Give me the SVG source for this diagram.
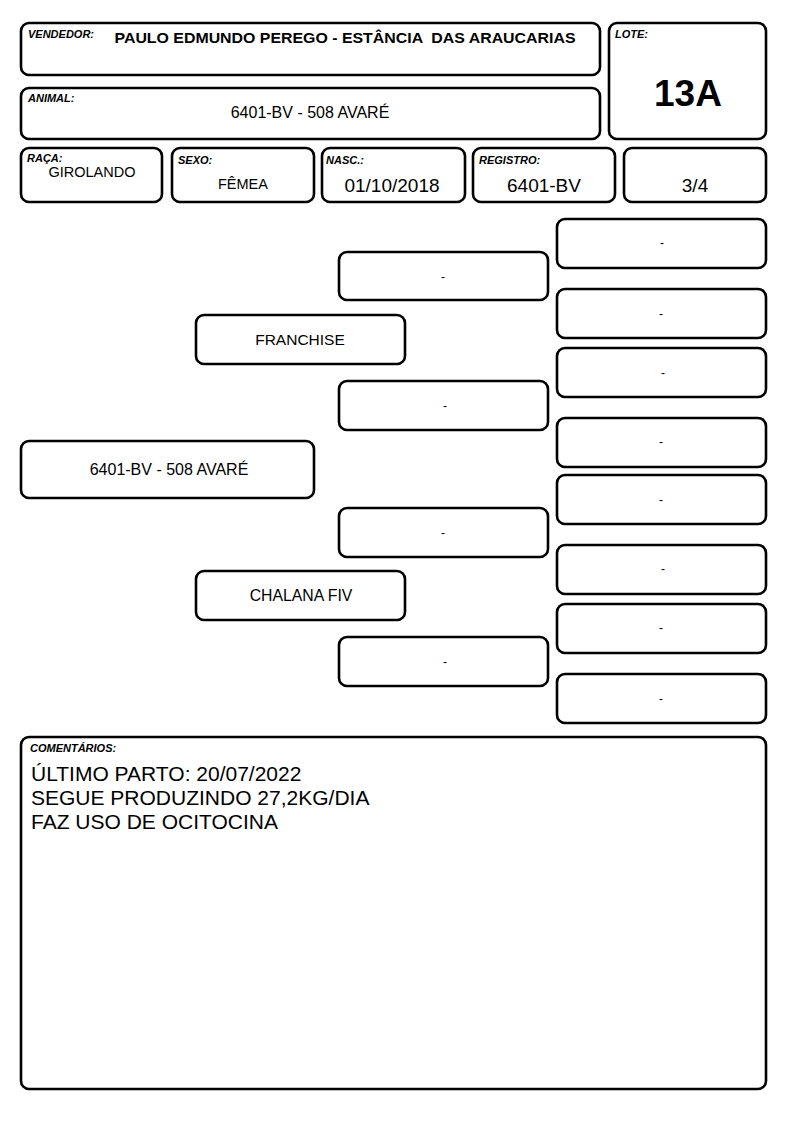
<svg xmlns="http://www.w3.org/2000/svg" width="794" height="1123" viewBox="0 0 794 1123">
<style>
.b{fill:#fff;stroke:#000;stroke-width:2.6}
.lbl{font-family:"Liberation Sans",Arial,sans-serif;font-size:11px;font-weight:bold;font-style:italic;fill:#000}
.t{font-family:"Liberation Sans",Arial,sans-serif;fill:#000;text-anchor:middle}
.d{font-family:"Liberation Sans",Arial,sans-serif;font-size:12px;fill:#000;text-anchor:middle}
.c{font-family:"Liberation Sans",Arial,sans-serif;font-size:21px;fill:#000}
</style>
<rect width="794" height="1123" fill="#fff"/>
<g id="vendedor">
<rect class="b" x="21" y="23" width="579" height="52" rx="8"/>
<text class="lbl" x="28" y="38">VENDEDOR:</text>
<text class="t" x="345" y="43" font-size="15.5" font-weight="bold" xml:space="preserve" textLength="461" lengthAdjust="spacingAndGlyphs">PAULO EDMUNDO PEREGO - ESTÂNCIA  DAS ARAUCARIAS</text>
</g>
<g id="lote">
<rect class="b" x="609" y="23" width="157" height="116" rx="8"/>
<text class="lbl" x="615" y="38">LOTE:</text>
<text class="t" x="688" y="106" font-size="37" font-weight="bold">13A</text>
</g>
<g id="animal">
<rect class="b" x="21" y="88" width="579" height="51" rx="8"/>
<text class="lbl" x="28" y="102">ANIMAL:</text>
<text class="t" x="310" y="118" font-size="16">6401-BV - 508 AVARÉ</text>
</g>
<g id="raca">
<rect class="b" x="21" y="148" width="141" height="54" rx="8"/>
<text class="lbl" x="27" y="162">RAÇA:</text>
<text class="t" x="92" y="177" font-size="14.5">GIROLANDO</text>
</g>
<g id="sexo">
<rect class="b" x="172" y="148" width="142" height="54" rx="8"/>
<text class="lbl" x="178" y="164">SEXO:</text>
<text class="t" x="243" y="189" font-size="14.5">FÊMEA</text>
</g>
<g id="nasc">
<rect class="b" x="322" y="148" width="143" height="54" rx="8"/>
<text class="lbl" x="326" y="164">NASC.:</text>
<text class="t" x="392" y="192" font-size="19">01/10/2018</text>
</g>
<g id="registro">
<rect class="b" x="473" y="148" width="142" height="54" rx="8"/>
<text class="lbl" x="479" y="164">REGISTRO:</text>
<text class="t" x="544" y="192" font-size="19">6401-BV</text>
</g>
<g id="grau">
<rect class="b" x="624" y="148" width="142" height="54" rx="8"/>
<text class="t" x="695" y="192" font-size="19">3/4</text>
</g>
<g id="connectors"></g>
<g id="ped-animal">
<rect class="b" x="21" y="441" width="293" height="57" rx="8"/>
<text class="t" x="169" y="475" font-size="16">6401-BV - 508 AVARÉ</text>
</g>
<g id="pai">
<rect class="b" x="196" y="315" width="209" height="49" rx="8"/>
<text class="t" x="300" y="345" font-size="15.5">FRANCHISE</text>
</g>
<g id="mae">
<rect class="b" x="196" y="571" width="209" height="49" rx="8"/>
<text class="t" x="301" y="601" font-size="15.8">CHALANA FIV</text>
</g>
<g id="avo-pp">
<rect class="b" x="339" y="252" width="209" height="48" rx="8"/>
<text class="d" x="443" y="281">-</text>
</g>
<g id="avo-pm">
<rect class="b" x="339" y="381" width="209" height="49" rx="8"/>
<text class="d" x="445" y="410">-</text>
</g>
<g id="avo-mp">
<rect class="b" x="339" y="508" width="209" height="49" rx="8"/>
<text class="d" x="443" y="537">-</text>
</g>
<g id="avo-mm">
<rect class="b" x="339" y="637" width="209" height="49" rx="8"/>
<text class="d" x="445" y="666">-</text>
</g>
<g id="bis-1">
<rect class="b" x="557" y="219" width="209" height="49" rx="8"/>
<text class="d" x="662" y="247">-</text>
</g>
<g id="bis-2">
<rect class="b" x="557" y="289" width="209" height="49" rx="8"/>
<text class="d" x="661" y="318">-</text>
</g>
<g id="bis-3">
<rect class="b" x="557" y="348" width="209" height="49" rx="8"/>
<text class="d" x="663" y="377">-</text>
</g>
<g id="bis-4">
<rect class="b" x="557" y="418" width="209" height="49" rx="8"/>
<text class="d" x="661" y="446">-</text>
</g>
<g id="bis-5">
<rect class="b" x="557" y="475" width="209" height="49" rx="8"/>
<text class="d" x="661" y="504">-</text>
</g>
<g id="bis-6">
<rect class="b" x="557" y="545" width="209" height="49" rx="8"/>
<text class="d" x="663" y="573">-</text>
</g>
<g id="bis-7">
<rect class="b" x="557" y="604" width="209" height="49" rx="8"/>
<text class="d" x="661" y="632">-</text>
</g>
<g id="bis-8">
<rect class="b" x="557" y="674" width="209" height="49" rx="8"/>
<text class="d" x="661" y="703">-</text>
</g>
<g id="comentarios">
<rect class="b" x="21" y="737" width="745" height="352" rx="8"/>
<text class="lbl" x="30" y="752">COMENTÁRIOS:</text>
<text class="c" x="31" y="781">ÚLTIMO PARTO: 20/07/2022</text>
<text class="c" x="31" y="805">SEGUE PRODUZINDO 27,2KG/DIA</text>
<text class="c" x="31" y="829">FAZ USO DE OCITOCINA</text>
</g>
</svg>
